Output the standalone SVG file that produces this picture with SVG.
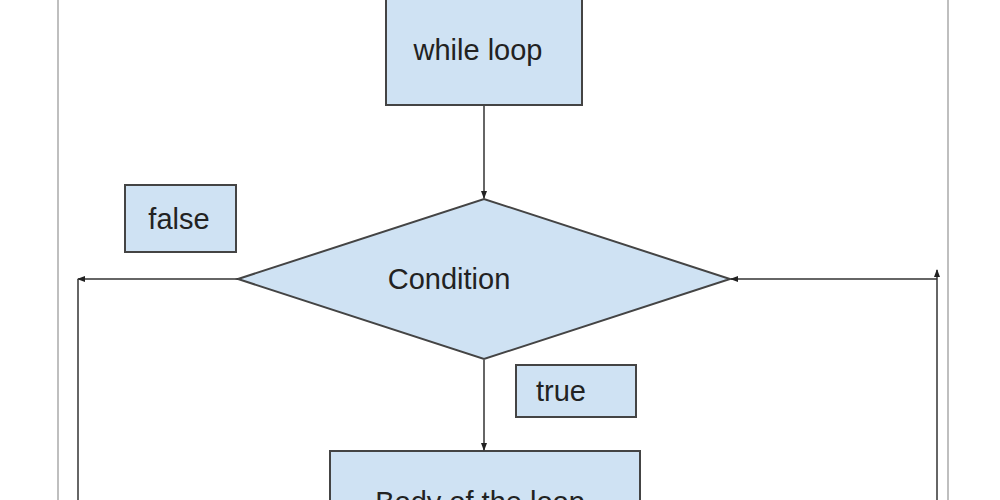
<svg xmlns="http://www.w3.org/2000/svg" width="1000" height="500" viewBox="0 0 1000 500">
<style>
.n{fill:#cfe2f3;stroke:#444;stroke-width:2}
.t{font-family:"Liberation Sans",Arial,sans-serif;font-size:29px;fill:#222;text-anchor:middle}
.c{stroke:#333;stroke-width:1.5;fill:none}
.f{stroke:#aaa;stroke-width:1.5}
</style>
<defs><marker id="a" markerWidth="8" markerHeight="8" refX="7" refY="4" orient="auto" markerUnits="userSpaceOnUse"><path d="M0,1 L8,4 L0,7 Z" fill="#222"/></marker></defs>
<rect width="1000" height="500" fill="#fff"/>
<line class="f" x1="58" y1="0" x2="58" y2="500"/>
<line class="f" x1="948" y1="0" x2="948" y2="500"/>
<g id="while"><rect class="n" x="386" y="-5" width="196" height="110"/><text class="t" x="478" y="60">while loop</text></g>
<g id="condition"><polygon class="n" points="238,279 484,199 730,279 484,359"/><text class="t" x="449" y="289">Condition</text></g>
<g id="false"><rect class="n" x="125" y="185" width="111" height="67"/><text class="t" x="179" y="229">false</text></g>
<g id="true"><rect class="n" x="516" y="365" width="120" height="52"/><text class="t" x="561" y="401">true</text></g>
<g id="body"><rect class="n" x="330" y="451" width="310" height="70"/><text class="t" x="480" y="512">Body of the loop</text></g>
<g id="connectors">
<line class="c" x1="484" y1="106" x2="484" y2="198" marker-end="url(#a)"/>
<line class="c" x1="484" y1="360" x2="484" y2="450" marker-end="url(#a)"/>
<line class="c" x1="238" y1="279" x2="78" y2="279" marker-end="url(#a)"/>
<line class="c" x1="78" y1="279" x2="78" y2="500"/>
<line class="c" x1="937" y1="500" x2="937" y2="270" marker-end="url(#a)"/>
<line class="c" x1="937" y1="279" x2="731" y2="279" marker-end="url(#a)"/>
</g>
</svg>
